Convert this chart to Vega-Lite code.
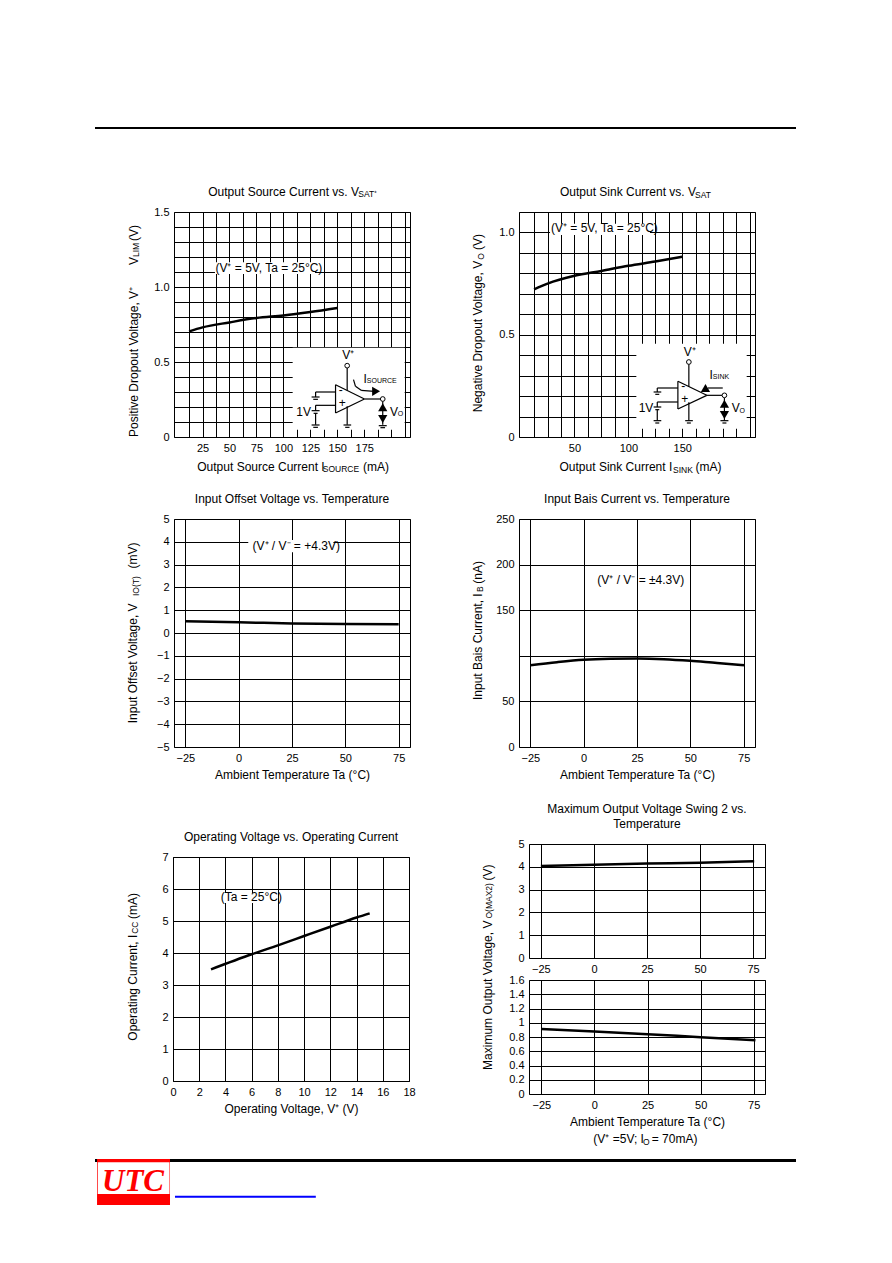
{"$schema":"https://vega.github.io/schema/vega-lite/v6.json","background":"#ffffff","padding":{"left":95,"top":127,"right":0,"bottom":0},"bounds":"flush","spacing":0,"config":{"view":{"stroke":null},"concat":{"spacing":0},"axis":{"labelFont":"Liberation Sans","labelFontSize":11,"labelColor":"#000","titleFont":"Liberation Sans","titleFontSize":12,"titleColor":"#000","titleFontWeight":"normal","domain":false,"ticks":false,"grid":true,"gridColor":"#000","gridOpacity":1,"gridWidth":1,"labelPadding":5,"labelOverlap":false,"labelFlush":false,"labelBound":false,"titlePadding":6},"title":{"font":"Liberation Sans","fontSize":12,"fontWeight":"normal","color":"#000","anchor":"middle","offset":7,"lineHeight":15},"text":{"font":"Liberation Sans","color":"#000","align":"left","baseline":"alphabetic"},"line":{"color":"#000","strokeWidth":2.5,"interpolate":"monotone"},"rule":{"color":"#000","strokeWidth":1.2},"style":{"text":{"fontSize":12},"sub":{"fontSize":8.5},"sub7":{"fontSize":7},"rot":{"angle":270,"fontSize":12},"rotsub":{"angle":270,"fontSize":8.5}}},"vconcat":[{"data":{"values":[]},"mark":"point","width":701,"height":2,"view":{"fill":"#000","stroke":null}},{"data":{"values":[]},"mark":"point","width":1,"height":83},{"hconcat":[{"data":{"values":[]},"mark":"point","width":79,"height":1},{"width":236,"height":225,"view":{"stroke":"#000"},"resolve":{"scale":{"x":"independent","y":"independent"}},"layer":[{"encoding":{"x":{"field":"x","type":"quantitative","scale":{"domain":[-1.5,217.5],"nice":false,"zero":false},"axis":{"title":null,"values":[12.5,25,37.5,50,62.5,75,87.5,100,112.5,125,137.5,150,162.5,175,187.5,200,212.5],"labelExpr":"(datum.value%25==0&&datum.value<=175)?toString(datum.value):''"}},"y":{"field":"y","type":"quantitative","scale":{"domain":[0,1.5],"nice":false,"zero":false},"axis":{"title":null,"values":[0,0.1,0.2,0.3,0.4,0.5,0.6,0.7,0.8,0.9,1,1.1,1.2,1.3,1.4,1.5],"labelExpr":"datum.value==0?'0':datum.value==0.5?'0.5':datum.value==1?'1.0':datum.value==1.5?'1.5':''"}}},"layer":[{"data":{"values":[{"x":36.5,"x2":129.3,"y":1.165,"y2":1.087}]},"mark":{"type":"rect","fill":"#fff"},"encoding":{"x2":{"field":"x2"},"y2":{"field":"y2"}}},{"data":{"values":[{"x":12.5,"y":0.704},{"x":25,"y":0.731},{"x":50,"y":0.764},{"x":75,"y":0.793},{"x":100,"y":0.81},{"x":125,"y":0.833},{"x":150,"y":0.86}]},"mark":"line"},{"data":{"values":[{"t":"Output Source Current vs. V","x":30.3,"y":1.609},{"t":"Output Source Current I","x":20.1,"y":-0.227},{"t":"(mA)","x":173.9,"y":-0.227},{"t":"(V⁺ = 5V, Ta = 25°C)","x":37,"y":1.102}]},"mark":"text","encoding":{"text":{"field":"t"}}},{"data":{"values":[{"t":"SAT⁺","x":169.5,"y":1.6},{"t":"SOURCE","x":136.5,"y":-0.233}]},"mark":{"type":"text","style":"sub"},"encoding":{"text":{"field":"t"}}},{"data":{"values":[{"t":"Positive Dropout Voltage, V⁺","x":-34.6,"y":0},{"t":"V","x":-34.6,"y":1.147},{"t":"(V)","x":-34.6,"y":1.307}]},"mark":{"type":"text","style":"rot"},"encoding":{"text":{"field":"t"}}},{"data":{"values":[{"t":"LIM","x":-34,"y":1.2}]},"mark":{"type":"text","style":"rotsub"},"encoding":{"text":{"field":"t"}}}]},{"encoding":{"x":{"field":"x","type":"quantitative","scale":{"domain":[162,872],"nice":false,"zero":false},"axis":null},"y":{"field":"y","type":"quantitative","scale":{"domain":[787,112],"nice":false,"zero":false},"axis":null}},"layer":[{"data":{"values":[{"x":519,"x2":856,"y":519,"y2":765}]},"mark":{"type":"rect","fill":"#fff"},"encoding":{"x2":{"field":"x2"},"y2":{"field":"y2"}}},{"data":{"values":[{"x":648,"y":630,"x2":648,"y2":715},{"x":648,"y":630,"x2":735,"y2":673},{"x":648,"y":715,"x2":735,"y2":673},{"x":683,"y":580,"x2":683,"y2":647},{"x":683,"y":695,"x2":683,"y2":750},{"x":672,"y":751,"x2":695,"y2":751},{"x":677,"y":758,"x2":690,"y2":758},{"x":735,"y":673,"x2":783,"y2":673},{"x":790,"y":680,"x2":790,"y2":750},{"x":778,"y":753,"x2":802,"y2":753},{"x":783,"y":759,"x2":797,"y2":759},{"x":648,"y":652,"x2":588,"y2":652},{"x":588,"y":652,"x2":588,"y2":667},{"x":576,"y":667,"x2":600,"y2":667},{"x":581,"y":674,"x2":595,"y2":674},{"x":648,"y":692,"x2":588,"y2":692},{"x":588,"y":692,"x2":588,"y2":708},{"x":576,"y":708,"x2":600,"y2":708},{"x":582,"y":716,"x2":594,"y2":716},{"x":588,"y":716,"x2":588,"y2":750},{"x":576,"y":751,"x2":600,"y2":751},{"x":581,"y":758,"x2":595,"y2":758},{"x":702,"y":615,"x2":708,"y2":635},{"x":708,"y":635,"x2":725,"y2":647},{"x":725,"y":647,"x2":765,"y2":650}]},"mark":"rule","encoding":{"x2":{"field":"x2"},"y2":{"field":"y2"}}},{"data":{"values":[{"x":683,"y":573},{"x":790,"y":673}]},"mark":{"type":"point","shape":"circle","size":22,"fill":"#fff","stroke":"#000","strokeWidth":1,"opacity":1}},{"data":{"values":[{"x":790,"y":698,"k":"up"},{"x":790,"y":733,"k":"down"},{"x":770,"y":650,"k":"right"}]},"mark":{"type":"point","filled":true,"size":85,"color":"#000","opacity":1},"encoding":{"shape":{"field":"k","type":"nominal","legend":null,"scale":{"domain":["up","down","right"],"range":["triangle-up","triangle-down","triangle-right"]}}}},{"data":{"values":[{"t":"V⁺","x":668,"y":553},{"t":"I","x":732,"y":625},{"t":"1V","x":530,"y":723},{"t":"V","x":812,"y":723},{"t":"-","x":658,"y":657},{"t":"+","x":658,"y":697}]},"mark":"text","encoding":{"text":{"field":"t"}}},{"data":{"values":[{"t":"SOURCE","x":742,"y":626},{"t":"O","x":835,"y":725}]},"mark":{"type":"text","style":"sub7"},"encoding":{"text":{"field":"t"}}}]}]},{"data":{"values":[]},"mark":"point","width":109,"height":1},{"width":236,"height":225,"view":{"stroke":"#000"},"resolve":{"scale":{"x":"independent","y":"independent"}},"layer":[{"encoding":{"x":{"field":"x","type":"quantitative","scale":{"domain":[-1.5,217.5],"nice":false,"zero":false},"axis":{"title":null,"values":[12.5,25,37.5,50,62.5,75,87.5,100,112.5,125,137.5,150,162.5,175,187.5,200,212.5],"labelExpr":"(datum.value==50||datum.value==100||datum.value==150)?toString(datum.value):''"}},"y":{"field":"y","type":"quantitative","scale":{"domain":[0,1.1],"nice":false,"zero":false},"axis":{"title":null,"values":[0,0.1,0.2,0.3,0.4,0.5,0.6,0.7,0.8,0.9,1,1.1],"labelExpr":"datum.value==0?'0':datum.value==0.5?'0.5':datum.value==1?'1.0':''"}}},"layer":[{"data":{"values":[{"x":27.3,"x2":120,"y":1.042,"y2":0.988}]},"mark":{"type":"rect","fill":"#fff"},"encoding":{"x2":{"field":"x2"},"y2":{"field":"y2"}}},{"data":{"values":[{"x":12.5,"y":0.722},{"x":25,"y":0.75},{"x":50,"y":0.788},{"x":75,"y":0.812},{"x":100,"y":0.837},{"x":125,"y":0.858},{"x":150,"y":0.881}]},"mark":"line"},{"data":{"values":[{"t":"Output Sink Current vs. V","x":36.5,"y":1.18},{"t":"Output Sink Current I","x":36.1,"y":-0.166},{"t":"(mA)","x":162.4,"y":-0.166},{"t":"(V⁺ = 5V, Ta = 25°C)","x":28.2,"y":1.001}]},"mark":"text","encoding":{"text":{"field":"t"}}},{"data":{"values":[{"t":"SAT","x":161.8,"y":1.169},{"t":"SINK","x":141.4,"y":-0.176}]},"mark":{"type":"text","style":"sub"},"encoding":{"text":{"field":"t"}}},{"data":{"values":[{"t":"Negative Dropout Voltage, V","x":-35.6,"y":0.121},{"t":"(V)","x":-35.6,"y":0.914}]},"mark":{"type":"text","style":"rot"},"encoding":{"text":{"field":"t"}}},{"data":{"values":[{"t":"O","x":-34,"y":0.866}]},"mark":{"type":"text","style":"rotsub"},"encoding":{"text":{"field":"t"}}}]},{"encoding":{"x":{"field":"x","type":"quantitative","scale":{"domain":[162,872],"nice":false,"zero":false},"axis":null},"y":{"field":"y","type":"quantitative","scale":{"domain":[787,112],"nice":false,"zero":false},"axis":null}},"layer":[{"data":{"values":[{"x":515,"x2":847,"y":507,"y2":762}]},"mark":{"type":"rect","fill":"#fff"},"encoding":{"x2":{"field":"x2"},"y2":{"field":"y2"}}},{"data":{"values":[{"x":640,"y":620,"x2":640,"y2":703},{"x":640,"y":620,"x2":727,"y2":662},{"x":640,"y":703,"x2":727,"y2":662},{"x":673,"y":569,"x2":673,"y2":636},{"x":673,"y":683,"x2":673,"y2":738},{"x":662,"y":738,"x2":685,"y2":738},{"x":667,"y":745,"x2":679,"y2":745},{"x":727,"y":662,"x2":773,"y2":662},{"x":780,"y":670,"x2":780,"y2":738},{"x":768,"y":738,"x2":792,"y2":738},{"x":774,"y":745,"x2":786,"y2":745},{"x":640,"y":640,"x2":578,"y2":640},{"x":578,"y":640,"x2":578,"y2":652},{"x":567,"y":652,"x2":590,"y2":652},{"x":572,"y":659,"x2":584,"y2":659},{"x":640,"y":682,"x2":578,"y2":682},{"x":578,"y":682,"x2":578,"y2":697},{"x":567,"y":697,"x2":590,"y2":697},{"x":572,"y":705,"x2":584,"y2":705},{"x":578,"y":705,"x2":578,"y2":738},{"x":567,"y":738,"x2":590,"y2":738},{"x":572,"y":745,"x2":584,"y2":745},{"x":775,"y":640,"x2":730,"y2":640}]},"mark":"rule","encoding":{"x2":{"field":"x2"},"y2":{"field":"y2"}}},{"data":{"values":[{"x":673,"y":562},{"x":780,"y":662}]},"mark":{"type":"point","shape":"circle","size":22,"fill":"#fff","stroke":"#000","strokeWidth":1,"opacity":1}},{"data":{"values":[{"x":780,"y":687,"k":"up"},{"x":780,"y":721,"k":"down"},{"x":723,"y":640,"k":"left"}]},"mark":{"type":"point","filled":true,"size":85,"color":"#000","opacity":1},"encoding":{"shape":{"field":"k","type":"nominal","legend":null,"scale":{"domain":["up","down","left"],"range":["triangle-up","triangle-down","triangle-left"]}}}},{"data":{"values":[{"t":"V⁺","x":658,"y":543},{"t":"I","x":735,"y":613},{"t":"1V","x":522,"y":713},{"t":"V","x":802,"y":713},{"t":"-","x":650,"y":645},{"t":"+","x":650,"y":685}]},"mark":"text","encoding":{"text":{"field":"t"}}},{"data":{"values":[{"t":"SINK","x":745,"y":614},{"t":"O","x":825,"y":715}]},"mark":{"type":"text","style":"sub7"},"encoding":{"text":{"field":"t"}}}]}]}],"spacing":0,"bounds":"flush"},{"data":{"values":[]},"mark":"point","width":1,"height":307},{"hconcat":[{"data":{"values":[]},"mark":"point","width":79,"height":1},{"width":236,"height":228,"view":{"stroke":"#000"},"title":"Input Offset Voltage vs. Temperature","encoding":{"x":{"field":"x","type":"quantitative","scale":{"domain":[-30.3,80.3],"nice":false,"zero":false},"axis":{"title":"Ambient Temperature Ta (°C)","values":[-25,0,25,50,75]}},"y":{"field":"y","type":"quantitative","scale":{"domain":[-5,5],"nice":false,"zero":false},"axis":{"title":null,"values":[-5,-4,-3,-2,-1,0,1,2,3,4,5]}}},"layer":[{"data":{"values":[{"x":4.5,"x2":44.4,"y":4.08,"y2":3.54}]},"mark":{"type":"rect","fill":"#fff"},"encoding":{"x2":{"field":"x2"},"y2":{"field":"y2"}}},{"data":{"values":[{"x":-25,"y":0.51},{"x":0,"y":0.47},{"x":25,"y":0.42},{"x":50,"y":0.4},{"x":75,"y":0.38}]},"mark":"line"},{"data":{"values":[{"t":"(V⁺ / V⁻ = +4.3V)","x":6.5,"y":3.64}]},"mark":"text","encoding":{"text":{"field":"t"}}},{"data":{"values":[{"t":"Input Offset Voltage, V","x":-47.5,"y":-3.96},{"t":"(mV)","x":-47.5,"y":2.83}]},"mark":{"type":"text","style":"rot"},"encoding":{"text":{"field":"t"}}},{"data":{"values":[{"t":"IO(T)","x":-46.7,"y":1.62}]},"mark":{"type":"text","style":"rotsub"},"encoding":{"text":{"field":"t"}}}]},{"data":{"values":[]},"mark":"point","width":109,"height":1},{"width":236,"height":228,"view":{"stroke":"#000"},"title":"Input Bais Current vs. Temperature","encoding":{"x":{"field":"x","type":"quantitative","scale":{"domain":[-30.3,80.3],"nice":false,"zero":false},"axis":{"title":"Ambient Temperature Ta (°C)","values":[-25,0,25,50,75]}},"y":{"field":"y","type":"quantitative","scale":{"domain":[0,250],"nice":false,"zero":false},"axis":{"title":null,"values":[0,50,100,150,200,250],"labelExpr":"datum.value==100?'':toString(datum.value)"}}},"layer":[{"data":{"values":[{"x":-25,"y":89.7},{"x":-12.5,"y":93},{"x":0,"y":95.6},{"x":12.5,"y":96.7},{"x":25,"y":97},{"x":37.5,"y":96.3},{"x":50,"y":94.5},{"x":62.5,"y":92},{"x":75.6,"y":89.7}]},"mark":"line"},{"data":{"values":[{"t":"(V⁺ / V⁻ = ±4.3V)","x":6.4,"y":178.4}]},"mark":"text","encoding":{"text":{"field":"t"}}},{"data":{"values":[{"t":"Input Bais Current, I","x":-47.8,"y":51.5},{"t":"(nA)","x":-47.8,"y":179}]},"mark":{"type":"text","style":"rot"},"encoding":{"text":{"field":"t"}}},{"data":{"values":[{"t":"B","x":-47,"y":170}]},"mark":{"type":"text","style":"rotsub"},"encoding":{"text":{"field":"t"}}}]}],"spacing":0,"bounds":"flush"},{"data":{"values":[]},"mark":"point","width":1,"height":325},{"hconcat":[{"data":{"values":[]},"mark":"point","width":78,"height":1},{"vconcat":[{"data":{"values":[]},"mark":"point","width":1,"height":13},{"width":236,"height":224,"view":{"stroke":"#000"},"title":"Operating Voltage vs. Operating Current","encoding":{"x":{"field":"x","type":"quantitative","scale":{"domain":[0,18],"nice":false,"zero":false},"axis":{"title":"Operating Voltage, V⁺ (V)","values":[0,2,4,6,8,10,12,14,16,18]}},"y":{"field":"y","type":"quantitative","scale":{"domain":[0,7],"nice":false,"zero":false},"axis":{"title":null,"values":[0,1,2,3,4,5,6,7]}}},"layer":[{"data":{"values":[{"x":3.53,"x2":7.96,"y":5.875,"y2":5.56}]},"mark":{"type":"rect","fill":"#fff"},"encoding":{"x2":{"field":"x2"},"y2":{"field":"y2"}}},{"data":{"values":[{"x":2.9,"y":3.49},{"x":6,"y":3.96},{"x":8,"y":4.24},{"x":10,"y":4.53},{"x":12,"y":4.82},{"x":14,"y":5.11},{"x":15,"y":5.24}]},"mark":"line"},{"data":{"values":[{"t":"(Ta = 25°C)","x":3.64,"y":5.63}]},"mark":"text","encoding":{"text":{"field":"t"}}},{"data":{"values":[{"t":"Operating Current, I","x":-2.77,"y":1.26},{"t":"(mA)","x":-2.77,"y":5.06}]},"mark":{"type":"text","style":"rot"},"encoding":{"text":{"field":"t"}}},{"data":{"values":[{"t":"CC","x":-2.65,"y":4.6}]},"mark":{"type":"text","style":"rotsub"},"encoding":{"text":{"field":"t"}}}]}],"spacing":0,"bounds":"flush"},{"data":{"values":[]},"mark":"point","width":356,"height":1},{"vconcat":[{"width":236,"height":114,"view":{"stroke":"#000"},"title":{"text":["Maximum Output Voltage Swing 2 vs.","Temperature"]},"encoding":{"x":{"field":"x","type":"quantitative","scale":{"domain":[-30.6,80.6],"nice":false,"zero":false},"axis":{"title":null,"values":[-25,0,25,50,75]}},"y":{"field":"y","type":"quantitative","scale":{"domain":[0,5],"nice":false,"zero":false},"axis":{"title":null,"values":[0,1,2,3,4,5]}}},"layer":[{"data":{"values":[{"x":-25,"y":4.03},{"x":0,"y":4.09},{"x":25,"y":4.14},{"x":50,"y":4.18},{"x":75.5,"y":4.24}]},"mark":"line"},{"data":{"values":[{"t":"Maximum Output Voltage, V","x":-48.2,"y":-4.91},{"t":"(V)","x":-48.2,"y":3.4}]},"mark":{"type":"text","style":"rot"},"encoding":{"text":{"field":"t"}}},{"data":{"values":[{"t":"O(MAX2)","x":-47.8,"y":1.73}]},"mark":{"type":"text","style":"rotsub"},"encoding":{"text":{"field":"t"}}}]},{"data":{"values":[]},"mark":"point","width":1,"height":22},{"width":236,"height":114,"view":{"stroke":"#000"},"encoding":{"x":{"field":"x","type":"quantitative","scale":{"domain":[-30.8,80.3],"nice":false,"zero":false},"axis":{"title":"Ambient Temperature Ta (°C)","values":[-25,0,25,50,75]}},"y":{"field":"y","type":"quantitative","scale":{"domain":[0,1.6],"nice":false,"zero":false},"axis":{"title":null,"values":[0,0.2,0.4,0.6,0.8,1,1.2,1.4,1.6],"labelExpr":"toString(datum.value)"}}},"layer":[{"data":{"values":[{"x":-25,"y":0.914},{"x":0,"y":0.877},{"x":25,"y":0.84},{"x":50,"y":0.798},{"x":75.8,"y":0.756}]},"mark":"line"},{"data":{"values":[{"t":"(V⁺ =5V; I","x":-0.5,"y":-0.688},{"t":"= 70mA)","x":27,"y":-0.688}]},"mark":"text","encoding":{"text":{"field":"t"}}},{"data":{"values":[{"t":"O","x":22.9,"y":-0.709}]},"mark":{"type":"text","style":"sub"},"encoding":{"text":{"field":"t"}}}]}],"spacing":0,"bounds":"flush"}],"spacing":0,"bounds":"flush"},{"data":{"values":[]},"mark":"point","width":1,"height":315},{"width":701,"height":46,"data":{"values":[{"x":0,"x2":100,"y":0,"y2":6.5,"k":"bar"},{"x":0.29,"x2":10.7,"y":0,"y2":100,"k":"logo"},{"x":0.39,"x2":10.63,"y":7.2,"y2":76,"k":"inner"},{"x":11.41,"x2":31.5,"y":80,"y2":84.3,"k":"link"}]},"encoding":{"x":{"field":"x","type":"quantitative","scale":{"domain":[0,100],"nice":false,"zero":false},"axis":null},"y":{"field":"y","type":"quantitative","scale":{"domain":[100,0],"nice":false,"zero":false},"axis":null}},"layer":[{"mark":"rect","encoding":{"x2":{"field":"x2"},"y2":{"field":"y2"},"color":{"field":"k","type":"nominal","legend":null,"sort":null,"scale":{"domain":["bar","logo","inner","link"],"range":["#000000","#ff0000","#ffffff","#0000ff"]}}}},{"data":{"values":[{"t":"UTC","x":1,"y":69.6}]},"mark":{"type":"text","font":"Liberation Serif","fontStyle":"italic","fontWeight":"bold","fontSize":31,"color":"#ff0000"},"encoding":{"text":{"field":"t"}}}]}]}
